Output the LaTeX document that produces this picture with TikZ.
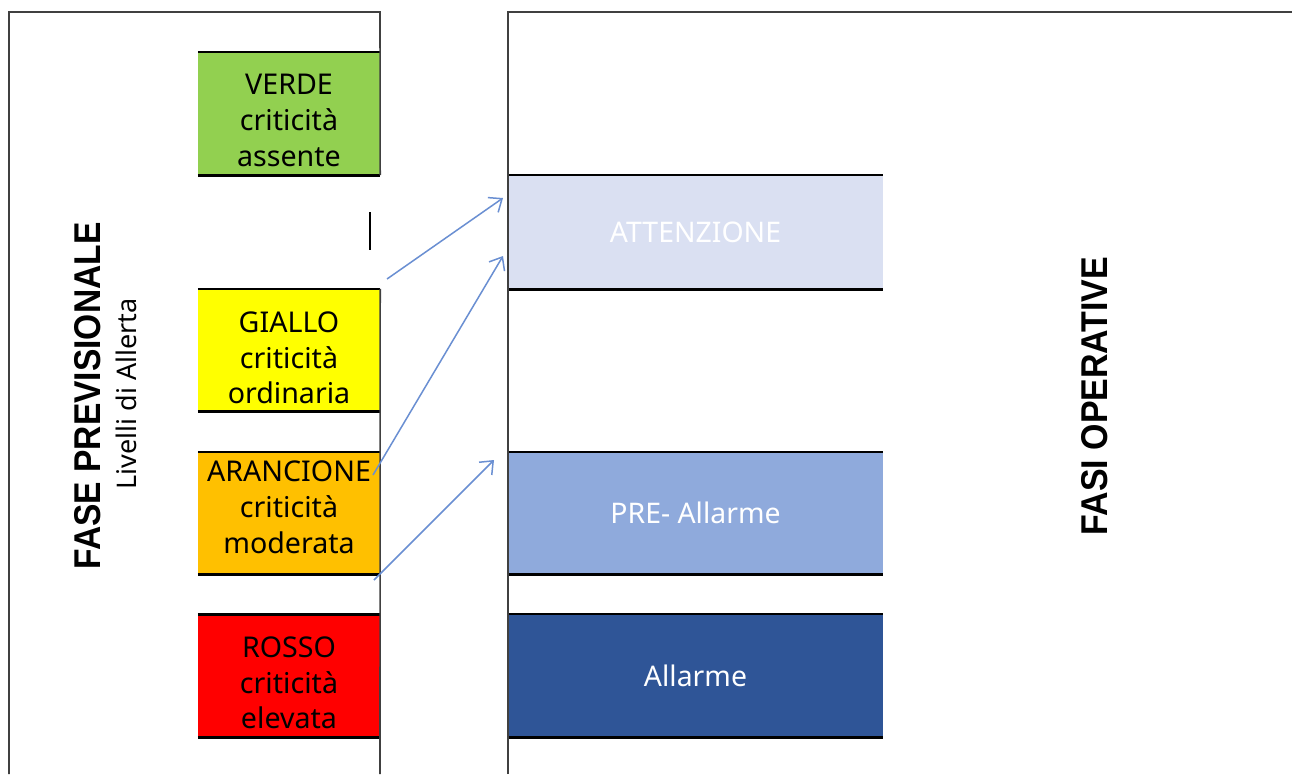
\documentclass[tikz,border=0pt]{standalone}
\usepackage{fontspec}
\usepackage{graphicx}
\setmainfont{Noto Sans}
\newfontfamily\titlefont{Liberation Sans}
\usetikzlibrary{arrows.meta}
\definecolor{verdecol}{HTML}{92D050}
\definecolor{giallocol}{HTML}{FFFF00}
\definecolor{arancionecol}{HTML}{FFC000}
\definecolor{rossocol}{HTML}{FF0000}
\definecolor{attcol}{HTML}{DAE0F2}
\definecolor{precol}{HTML}{8FAADC}
\definecolor{allcol}{HTML}{2F5597}
\definecolor{arrcol}{HTML}{6A8FD2}
\definecolor{panelcol}{HTML}{404040}
\begin{document}
\begin{tikzpicture}[x=1pt,y=-1pt,
  lbox/.style={rectangle, minimum width=182pt, inner sep=0pt},
  rbox/.style={rectangle, minimum width=375pt, inner sep=0pt, align=center,
    text=white, font=\fontsize{28.4}{35.7}\selectfont},
  ltext/.style={anchor=north, inner sep=0pt, align=center, text=black,
    font=\fontsize{28.6}{35.7}\selectfont},
  boxedge/.style={line width=2.6pt, black},
  panel/.style={line width=1.6pt, panelcol},
  link/.style={arrcol, line width=1.5pt, -{Straight Barb[length=11pt,width=18pt,line width=1.5pt]}},
  bigtitle/.style={rotate=90, anchor=base, inner sep=0pt,
    font=\titlefont\bfseries\fontsize{37.3}{40}\selectfont},
  subtitle/.style={rotate=90, anchor=base, inner sep=0pt,
    font=\fontsize{27}{30}\selectfont},
]
\useasboundingbox (0,0) rectangle (1292,774);
\fill[white] (0,0) rectangle (1292,774);

% left boxes (alert levels)
\node[lbox, minimum height=123pt, fill=verdecol] (verde) at (289,113.5) {};
\node[lbox, minimum height=122.5pt, fill=giallocol] (giallo) at (289,350.25) {};
\node[lbox, minimum height=122pt, fill=arancionecol] (arancione) at (289,513) {};
\node[lbox, minimum height=122.5pt, fill=rossocol] (rosso) at (289,675.75) {};

\node[ltext] (verdeT) at (289,74) {VERDE\\criticità\\assente};
\node[ltext] (gialloT) at (289,311.4) {GIALLO\\criticità\\ordinaria};
\node[ltext] (arancioneT) at (289,460.7) {ARANCIONE\\criticità\\moderata};
\node[ltext] (rossoT) at (289,636.4) {ROSSO\\criticità\\elevata};

% right boxes (operative phases)
\node[rbox, minimum height=114pt, fill=attcol] (attenzione) at (695.5,232) {ATTENZIONE};
\node[rbox, minimum height=122pt, fill=precol] (pre) at (695.5,513.25) {PRE- Allarme};
\node[rbox, minimum height=123pt, fill=allcol] (allarme) at (695.5,675.5) {Allarme};

\foreach \b in {verde,giallo,arancione,rosso,attenzione,pre,allarme}{
  \draw[boxedge] (\b.north west) -- (\b.north east)
                 (\b.south west) -- (\b.south east);
}

% panel frames
\coordinate (lpBL) at (9,774);
\coordinate (lpTL) at (9,12);
\coordinate (lpTR) at (380,12);
\coordinate (lpBR) at (380,774);
\coordinate (tickT) at (370,212);
\coordinate (tickB) at (370,250);
\coordinate (rpBL) at (508,774);
\coordinate (rpTL) at (508,12);
\coordinate (rpTR) at (1292,12);
\draw[panel] (lpBL) -- (lpTL) -- (lpTR) -- (verde.south east);
\draw[panel] (giallo.north east) -- (lpBR);
\draw[panel, black] (tickT) -- (tickB);
\draw[panel] (rpBL) -- (rpTL) -- (rpTR);

% titles
\node[bigtitle] (fase) at (100,396) {\scalebox{0.9}[1]{FASE PREVISIONALE}};
\node[subtitle] (livelli) at (136.5,394) {Livelli di Allerta};
\node[bigtitle] (fasi) at (1107,396) {\scalebox{0.91}[1]{FASI OPERATIVE}};

% arrows
\coordinate (a1s) at (387,279);
\coordinate (a1e) at (503,198);
\coordinate (a2s) at (373,475);
\coordinate (a2e) at (503,256);
\coordinate (a3s) at (374,580);
\coordinate (a3e) at (494,460);
\draw[link] (a1s) -- (a1e);
\draw[link] (a2s) -- (a2e);
\draw[link] (a3s) -- (a3e);
\end{tikzpicture}
\end{document}
